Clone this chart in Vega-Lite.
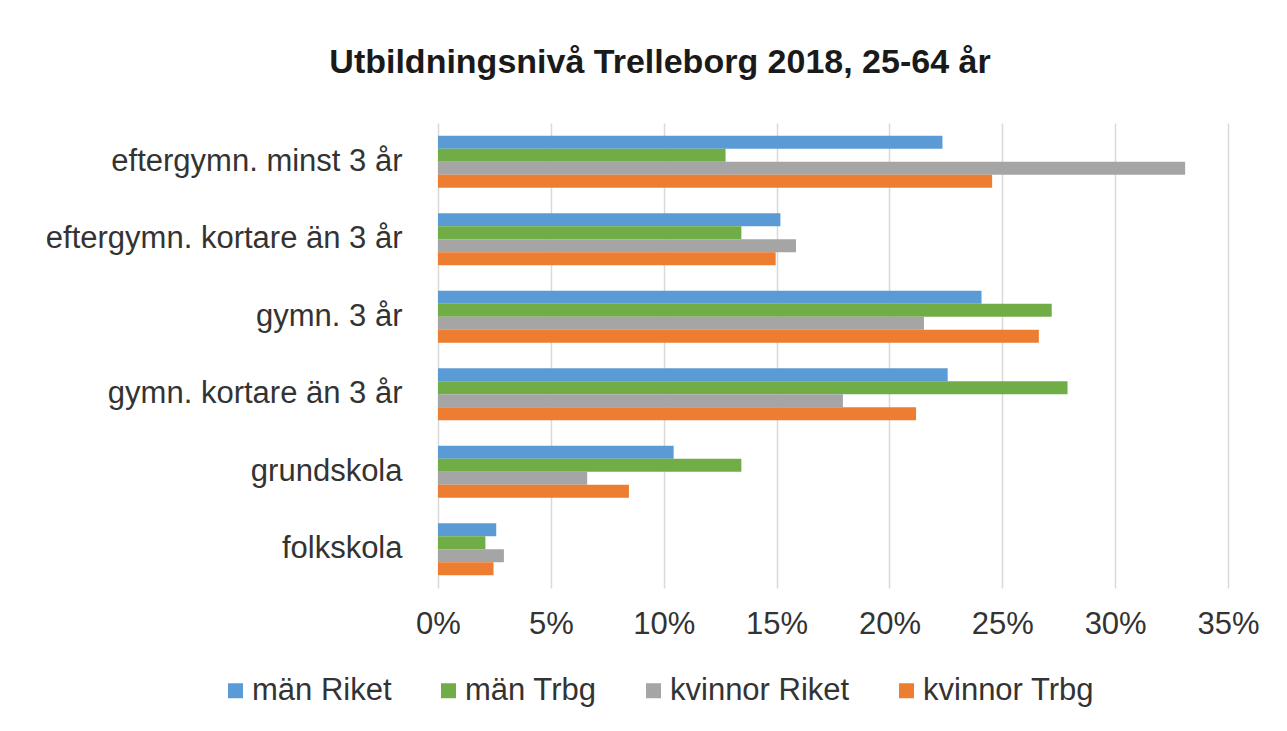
{
  "$schema": "https://vega.github.io/schema/vega-lite/v6.json",
  "width": 790,
  "height": 465,
  "autosize": {"type": "none"},
  "padding": {"left": 438, "top": 123, "right": 59, "bottom": 143},
  "background": "white",
  "title": {
    "text": "Utbildningsnivå  Trelleborg 2018, 25-64 år",
    "anchor": "middle",
    "frame": "group",
    "dx": -173,
    "baseline": "alphabetic",
    "offset": 16,
    "font": "Liberation Sans",
    "fontSize": 34,
    "fontWeight": "bold",
    "color": "#1a1a1a"
  },
  "data": {
    "values": [
      {"niva": "eftergymn. minst 3 år", "grupp": "män Riket", "andel": 0.2235},
      {"niva": "eftergymn. minst 3 år", "grupp": "män Trbg", "andel": 0.1274},
      {"niva": "eftergymn. minst 3 år", "grupp": "kvinnor Riket", "andel": 0.331},
      {"niva": "eftergymn. minst 3 år", "grupp": "kvinnor Trbg", "andel": 0.2455},
      {"niva": "eftergymn. kortare än 3 år", "grupp": "män Riket", "andel": 0.1517},
      {"niva": "eftergymn. kortare än 3 år", "grupp": "män Trbg", "andel": 0.1344},
      {"niva": "eftergymn. kortare än 3 år", "grupp": "kvinnor Riket", "andel": 0.1586},
      {"niva": "eftergymn. kortare än 3 år", "grupp": "kvinnor Trbg", "andel": 0.1496},
      {"niva": "gymn. 3 år", "grupp": "män Riket", "andel": 0.2408},
      {"niva": "gymn. 3 år", "grupp": "män Trbg", "andel": 0.2719},
      {"niva": "gymn. 3 år", "grupp": "kvinnor Riket", "andel": 0.2153},
      {"niva": "gymn. 3 år", "grupp": "kvinnor Trbg", "andel": 0.2662},
      {"niva": "gymn. kortare än 3 år", "grupp": "män Riket", "andel": 0.2258},
      {"niva": "gymn. kortare än 3 år", "grupp": "män Trbg", "andel": 0.2789},
      {"niva": "gymn. kortare än 3 år", "grupp": "kvinnor Riket", "andel": 0.1794},
      {"niva": "gymn. kortare än 3 år", "grupp": "kvinnor Trbg", "andel": 0.2118},
      {"niva": "grundskola", "grupp": "män Riket", "andel": 0.1044},
      {"niva": "grundskola", "grupp": "män Trbg", "andel": 0.1344},
      {"niva": "grundskola", "grupp": "kvinnor Riket", "andel": 0.0661},
      {"niva": "grundskola", "grupp": "kvinnor Trbg", "andel": 0.0846},
      {"niva": "folkskola", "grupp": "män Riket", "andel": 0.0258},
      {"niva": "folkskola", "grupp": "män Trbg", "andel": 0.021},
      {"niva": "folkskola", "grupp": "kvinnor Riket", "andel": 0.0292},
      {"niva": "folkskola", "grupp": "kvinnor Trbg", "andel": 0.0246}
    ]
  },
  "mark": {"type": "bar"},
  "encoding": {
    "y": {
      "field": "niva",
      "type": "nominal",
      "sort": ["eftergymn. minst 3 år", "eftergymn. kortare än 3 år", "gymn. 3 år", "gymn. kortare än 3 år", "grundskola", "folkskola"],
      "scale": {"paddingInner": 0.33, "paddingOuter": 0.165},
      "axis": {
        "title": null,
        "domain": false,
        "ticks": false,
        "grid": false,
        "labelPadding": 36,
        "labelFont": "Liberation Sans",
        "labelFontSize": 31,
        "labelColor": "#333333",
        "labelLimit": 500
      }
    },
    "yOffset": {
      "field": "grupp",
      "type": "nominal",
      "sort": ["män Riket", "män Trbg", "kvinnor Riket", "kvinnor Trbg"]
    },
    "x": {
      "field": "andel",
      "type": "quantitative",
      "scale": {"domain": [0, 0.35], "nice": false},
      "axis": {
        "title": null,
        "format": ".0%",
        "values": [0, 0.05, 0.1, 0.15, 0.2, 0.25, 0.3, 0.35],
        "domain": false,
        "ticks": false,
        "grid": true,
        "gridColor": "#D9D9D9",
        "gridWidth": 1.5,
        "labelPadding": 21,
        "labelFont": "Liberation Sans",
        "labelFontSize": 31,
        "labelColor": "#333333",
        "labelFlush": false
      }
    },
    "color": {
      "field": "grupp",
      "type": "nominal",
      "sort": ["män Riket", "män Trbg", "kvinnor Riket", "kvinnor Trbg"],
      "scale": {
        "domain": ["män Riket", "män Trbg", "kvinnor Riket", "kvinnor Trbg"],
        "range": ["#5B9BD5", "#70AD47", "#A5A5A5", "#ED7D31"]
      },
      "legend": {
        "title": null,
        "orient": "none",
        "direction": "horizontal",
        "columns": 4,
        "legendX": -218,
        "legendY": 552,
        "symbolType": "square",
        "symbolSize": 225,
        "symbolStrokeWidth": 0,
        "labelOffset": 1,
        "columnPadding": 41,
        "labelFont": "Liberation Sans",
        "labelFontSize": 31,
        "labelColor": "#333333",
        "labelLimit": 400
      }
    }
  },
  "config": {"view": {"stroke": null}}
}
